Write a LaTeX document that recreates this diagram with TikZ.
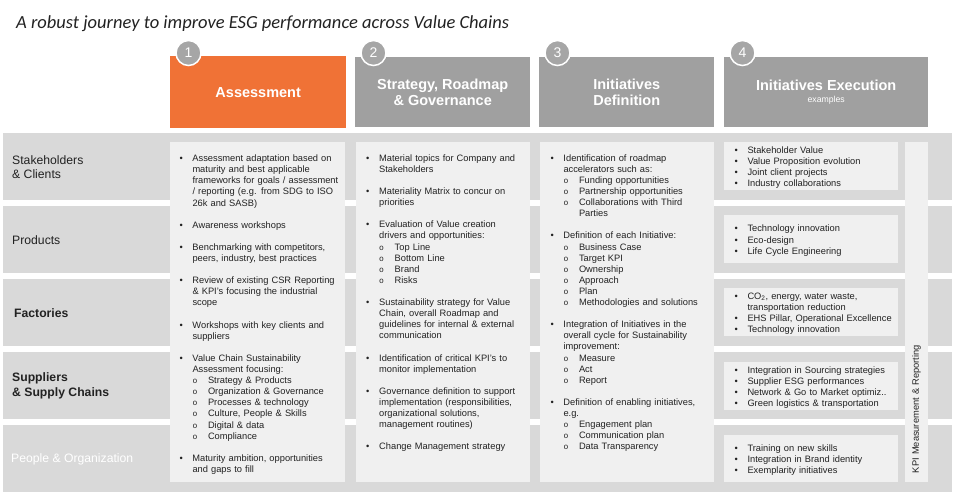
\documentclass[tikz,border=0pt]{standalone}
\usepackage{fontspec}
\setmainfont{Liberation Sans}
\setmonofont{Liberation Mono}
\newfontfamily\titlefont{Carlito}
\usetikzlibrary{positioning, calc}
\definecolor{Ink}{HTML}{222222}
\definecolor{Accent}{HTML}{F07236}
\definecolor{Head}{HTML}{A0A0A0}
\definecolor{Band}{HTML}{D9D9D9}
\definecolor{Panel}{HTML}{F0F0F0}
\definecolor{Ring}{HTML}{A6A6A6}
\definecolor{White}{HTML}{FFFFFF}
\newcommand{\bitem}[1]{\par\hangindent=13pt\hangafter=1\noindent\strut\makebox[13pt][l]{\textbullet}#1\par}
\newcommand{\sitem}[1]{\par\hangindent=28.5pt\hangafter=1\noindent\strut\hspace*{13pt}\makebox[15.5pt][l]{\ttfamily\fontsize{8}{11.1}\selectfont o}#1\par}
\newcommand{\gap}{\par\vspace{11.1pt}}
\tikzset{
    headnode/.style={rectangle, fill=Head, text=White, align=center, anchor=north west, inner sep=0pt, font=\bfseries\fontsize{14.5}{16.7}\selectfont},
    accenthead/.style={headnode, fill=Accent},
    numring/.style={circle, fill=Ring, draw=White, line width=1.5pt, minimum size=25pt, inner sep=0pt, text=White, font=\fontsize{14}{14}\selectfont},
    rowlabel/.style={anchor=west, align=left, inner sep=0pt, text=Ink, font=\fontsize{12.2}{13.7}\selectfont},
    boldlabel/.style={rowlabel, font=\bfseries\fontsize{12.2}{15}\selectfont},
    itemtext/.style={anchor=north west, align=left, text width=170pt, inner sep=0pt, text=Ink, font=\fontsize{9.3}{11.1}\selectfont},
    execbox/.style={fill=Panel, anchor=north west, align=left, text width=174pt, inner sep=0pt, minimum height=48pt, text=Ink, font=\fontsize{9.3}{11.1}\selectfont, execute at begin node={\leftskip=10.3pt\relax}},
}
\begin{document}
\begin{tikzpicture}[x=1pt, y=-1pt]
\useasboundingbox (0,0) rectangle (958,497);

% Titolo
\node[anchor=base west, inner sep=0pt, text=Ink, font=\titlefont\itshape\fontsize{18.5}{21}\selectfont] (title) at (16,28.3) {A robust journey to improve ESG performance across Value Chains};

% Fasce delle righe
\foreach \i in {0,...,4}
    \fill[Band] (3,{133+73*\i}) rectangle (952,{200+73*\i});

% Intestazioni delle fasi
\node[accenthead, minimum width=176pt, minimum height=72pt] (assess) at (170,56) {Assessment};
\node[headnode, minimum width=175pt, minimum height=70pt] (strategy) at (355,57) {Strategy, Roadmap\\\& Governance};
\node[headnode, minimum width=175pt, minimum height=70pt] (define) at (539,57) {Initiatives\\Definition};
\node[headnode, minimum width=204pt, minimum height=70pt] (execute) at (724,57) {Initiatives Execution\\[-4.7pt]{\mdseries\fontsize{8.7}{10}\selectfont examples}};

% Numeri delle fasi
\foreach \n/\x in {1/188.5, 2/373.5, 3/557.5, 4/742.5}
    \node[numring] (num\n) at (\x,53) {\n};

% Etichette delle righe
\node[rowlabel] (stake) at (12,167) {Stakeholders\\\& Clients};
\node[rowlabel] (products) at (12,240) {Products};
\node[boldlabel] (factories) at (14,313) {Factories};
\node[boldlabel] (suppliers) at (12,386) {Suppliers\\\& Supply Chains};
\node[rowlabel, text=White] (people) at (11,459) {People \& Organization};

% Pannelli delle colonne
\fill[Panel] (170,142) rectangle (345,482);
\fill[Panel] (356,142) rectangle (530,482);
\fill[Panel] (540,142) rectangle (714,482);

% Colonna 1
\node[itemtext] (assesstext) at (179.3,150.4) {%
\bitem{Assessment adaptation based on\newline maturity and best applicable\newline frameworks for goals / assessment\newline / reporting (e.g. from SDG to ISO\newline 26k and SASB)}\gap
\bitem{Awareness workshops}\gap
\bitem{Benchmarking with competitors,\newline peers, industry, best practices}\gap
\bitem{Review of existing CSR Reporting\newline \& KPI's focusing the industrial\newline scope}\gap
\bitem{Workshops with key clients and\newline suppliers}\gap
\bitem{Value Chain Sustainability\newline Assessment focusing:}
\sitem{Strategy \& Products}
\sitem{Organization \& Governance}
\sitem{Processes \& technology}
\sitem{Culture, People \& Skills}
\sitem{Digital \& data}
\sitem{Compliance}\gap
\bitem{Maturity ambition, opportunities\newline and gaps to fill}};

% Colonna 2
\node[itemtext] (strategytext) at (366,150) {%
\bitem{Material topics for Company and\newline Stakeholders}\gap
\bitem{Materiality Matrix to concur on\newline priorities}\gap
\bitem{Evaluation of Value creation\newline drivers and opportunities:}
\sitem{Top Line}
\sitem{Bottom Line}
\sitem{Brand}
\sitem{Risks}\gap
\bitem{Sustainability strategy for Value\newline Chain, overall Roadmap and\newline guidelines for internal \& external\newline communication}\gap
\bitem{Identification of critical KPI's to\newline monitor implementation}\gap
\bitem{Governance definition to support\newline implementation (responsibilities,\newline organizational solutions,\newline management routines)}\gap
\bitem{Change Management strategy}};

% Colonna 3
\node[itemtext] (definetext) at (550.3,150) {%
\bitem{Identification of roadmap\newline accelerators such as:}
\sitem{Funding opportunities}
\sitem{Partnership opportunities}
\sitem{Collaborations with Third\newline Parties}\gap
\bitem{Definition of each Initiative:}
\sitem{Business Case}
\sitem{Target KPI}
\sitem{Ownership}
\sitem{Approach}
\sitem{Plan}
\sitem{Methodologies and solutions}\gap
\bitem{Integration of Initiatives in the\newline overall cycle for Sustainability\newline improvement:}
\sitem{Measure}
\sitem{Act}
\sitem{Report}\gap
\bitem{Definition of enabling initiatives,\newline e.g.}
\sitem{Engagement plan}
\sitem{Communication plan}
\sitem{Data Transparency}};

% Colonna 4: esempi
\node[execbox] (ex1) at (724,142) {\bitem{Stakeholder Value}\bitem{Value Proposition evolution}\bitem{Joint client projects}\bitem{Industry collaborations}};
\node[execbox] (ex2) at (724,215) {\bitem{Technology innovation}\bitem{Eco-design}\bitem{Life Cycle Engineering}};
\node[execbox] (ex3) at (724,288) {\bitem{CO\textsubscript{2}, energy, water waste,\newline transportation reduction}\bitem{EHS Pillar, Operational Excellence}\bitem{Technology innovation}};
\node[execbox, minimum height=47pt] (ex4) at (724,362) {\bitem{Integration in Sourcing strategies}\bitem{Supplier ESG performances}\bitem{Network \& Go to Market optimiz..}\bitem{Green logistics \& transportation}};
\node[execbox, minimum height=47pt] (ex5) at (724,435) {\bitem{Training on new skills}\bitem{Integration in Brand identity}\bitem{Exemplarity initiatives}};

% Striscia KPI
\node[fill=Panel, rotate=90, minimum height=23pt, text width=322pt, inner xsep=9pt, inner ysep=0pt, align=left, text=Ink, font=\fontsize{9.3}{11.1}\selectfont] (kpi) at (916.5,312) {KPI Measurement \& Reporting};
\end{tikzpicture}
\end{document}
